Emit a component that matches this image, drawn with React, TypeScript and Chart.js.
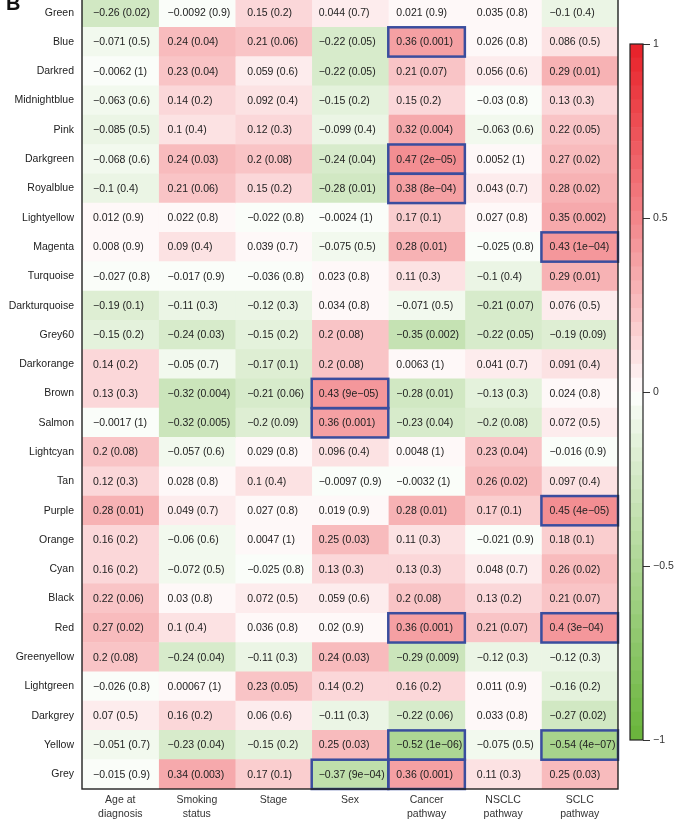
import React, { useEffect, useRef } from "react";
import { Chart, registerables } from "chart.js";
Chart.register(...registerables);

const modules = [
  "Green", "Blue", "Darkred", "Midnightblue", "Pink", "Darkgreen", "Royalblue",
  "Lightyellow", "Magenta", "Turquoise", "Darkturquoise", "Grey60", "Darkorange",
  "Brown", "Salmon", "Lightcyan", "Tan", "Purple", "Orange", "Cyan", "Black", "Red",
  "Greenyellow", "Lightgreen", "Darkgrey", "Yellow", "Grey",
];

const traitLabels = [
  ["Age at", "diagnosis"],
  ["Smoking", "status"],
  ["Stage"],
  ["Sex"],
  ["Cancer", "pathway"],
  ["NSCLC", "pathway"],
  ["SCLC", "pathway"],
];

const ageR = [-0.26, -0.071, -0.0062, -0.063, -0.085, -0.068, -0.1, 0.012, 0.008, -0.027, -0.19, -0.15, 0.14, 0.13, -0.0017, 0.2, 0.12, 0.28, 0.16, 0.16, 0.22, 0.27, 0.2, -0.026, 0.07, -0.051, -0.015];
const ageP = ["0.02", "0.5", "1", "0.6", "0.5", "0.6", "0.4", "0.9", "0.9", "0.8", "0.1", "0.2", "0.2", "0.3", "1", "0.08", "0.3", "0.01", "0.2", "0.2", "0.06", "0.02", "0.08", "0.8", "0.5", "0.7", "0.9"];

const smokingR = [-0.0092, 0.24, 0.23, 0.14, 0.1, 0.24, 0.21, 0.022, 0.09, -0.017, -0.11, -0.24, -0.05, -0.32, -0.32, -0.057, 0.028, 0.049, -0.06, -0.072, 0.03, 0.1, -0.24, 0.00067, 0.16, -0.23, 0.34];
const smokingP = ["0.9", "0.04", "0.04", "0.2", "0.4", "0.03", "0.06", "0.8", "0.4", "0.9", "0.3", "0.03", "0.7", "0.004", "0.005", "0.6", "0.8", "0.7", "0.6", "0.5", "0.8", "0.4", "0.04", "1", "0.2", "0.04", "0.003"];

const stageR = [0.15, 0.21, 0.059, 0.092, 0.12, 0.2, 0.15, -0.022, 0.039, -0.036, -0.12, -0.15, -0.17, -0.21, -0.2, 0.029, 0.1, 0.027, 0.0047, -0.025, 0.072, 0.036, -0.11, 0.23, 0.06, -0.15, 0.17];
const stageP = ["0.2", "0.06", "0.6", "0.4", "0.3", "0.08", "0.2", "0.8", "0.7", "0.8", "0.3", "0.2", "0.1", "0.06", "0.09", "0.8", "0.4", "0.8", "1", "0.8", "0.5", "0.8", "0.3", "0.05", "0.6", "0.2", "0.1"];

const sexR = [0.044, -0.22, -0.22, -0.15, -0.099, -0.24, -0.28, -0.0024, -0.075, 0.023, 0.034, 0.2, 0.2, 0.43, 0.36, 0.096, -0.0097, 0.019, 0.25, 0.13, 0.059, 0.02, 0.24, 0.14, -0.11, 0.25, -0.37];
const sexP = ["0.7", "0.05", "0.05", "0.2", "0.4", "0.04", "0.01", "1", "0.5", "0.8", "0.8", "0.08", "0.08", "9e-05", "0.001", "0.4", "0.9", "0.9", "0.03", "0.3", "0.6", "0.9", "0.03", "0.2", "0.3", "0.03", "9e-04"];

const cancerR = [0.021, 0.36, 0.21, 0.15, 0.32, 0.47, 0.38, 0.17, 0.28, 0.11, -0.071, -0.35, 0.0063, -0.28, -0.23, 0.0048, -0.0032, 0.28, 0.11, 0.13, 0.2, 0.36, -0.29, 0.16, -0.22, -0.52, 0.36];
const cancerP = ["0.9", "0.001", "0.07", "0.2", "0.004", "2e-05", "8e-04", "0.1", "0.01", "0.3", "0.5", "0.002", "1", "0.01", "0.04", "1", "1", "0.01", "0.3", "0.3", "0.08", "0.001", "0.009", "0.2", "0.06", "1e-06", "0.001"];

const nsclcR = [0.035, 0.026, 0.056, -0.03, -0.063, 0.0052, 0.043, 0.027, -0.025, -0.1, -0.21, -0.22, 0.041, -0.13, -0.2, 0.23, 0.26, 0.17, -0.021, 0.048, 0.13, 0.21, -0.12, 0.011, 0.033, -0.075, 0.11];
const nsclcP = ["0.8", "0.8", "0.6", "0.8", "0.6", "1", "0.7", "0.8", "0.8", "0.4", "0.07", "0.05", "0.7", "0.3", "0.08", "0.04", "0.02", "0.1", "0.9", "0.7", "0.2", "0.07", "0.3", "0.9", "0.8", "0.5", "0.3"];

const sclcR = [-0.1, 0.086, 0.29, 0.13, 0.22, 0.27, 0.28, 0.35, 0.43, 0.29, 0.076, -0.19, 0.091, 0.024, 0.072, -0.016, 0.097, 0.45, 0.18, 0.26, 0.21, 0.4, -0.12, -0.16, -0.27, -0.54, 0.25];
const sclcP = ["0.4", "0.5", "0.01", "0.3", "0.05", "0.02", "0.02", "0.002", "1e-04", "0.01", "0.5", "0.09", "0.4", "0.8", "0.5", "0.9", "0.4", "4e-05", "0.1", "0.02", "0.07", "3e-04", "0.3", "0.2", "0.02", "4e-07", "0.03"];

const colorbarTicks = [-1, -0.5, 0, 0.5, 1];

const rCols = [ageR, smokingR, stageR, sexR, cancerR, nsclcR, sclcR];
const pCols = [ageP, smokingP, stageP, sexP, cancerP, nsclcP, sclcP];

const STEPS = 50;
const RED = [232, 32, 40];
const GREEN = [104, 180, 58];
const GAMMA = 0.88;

function binMid(v: number) {
  const bin = Math.min(STEPS - 1, Math.max(0, Math.floor(((v + 1) / 2) * STEPS)));
  return -1 + ((bin + 0.5) * 2) / STEPS;
}
function colorFor(v: number) {
  const m = binMid(v);
  const t = Math.pow(Math.abs(m), GAMMA);
  const end = m >= 0 ? RED : GREEN;
  const c = end.map((e) => Math.round(255 + (e - 255) * t));
  return `rgb(${c[0]},${c[1]},${c[2]})`;
}
const minus = (s: string) => s.replace("-", "\u2212");

const FONT = '"Liberation Sans", Arial, Helvetica, sans-serif';
const TEXT = "#222";
const TEXT_INSET = [11, 9, 12, 7, 8, 12, 8];

const W = 678;
const SHIFT = 20;
const MAIN_H = 843;

export default function App() {
  const mainRef = useRef<HTMLCanvasElement>(null);
  const barRef = useRef<HTMLCanvasElement>(null);

  useEffect(() => {
    const nRows = modules.length;
    const cellPlugin = {
      id: "cells",
      afterDatasetsDraw(chart: any) {
        const { ctx, chartArea, scales } = chart;
        const xs = scales.x;
        const ys = scales.y;
        const rowH = (chartArea.bottom - chartArea.top) / nRows;
        ctx.save();
        ctx.font = `10.5px ${FONT}`;
        ctx.fillStyle = TEXT;
        ctx.textAlign = "left";
        ctx.textBaseline = "middle";
        rCols.forEach((col, c) => {
          const x0 = xs.getPixelForValue(c);
          col.forEach((r, i) => {
            const y = ys.getPixelForValue(i);
            ctx.fillText(`${minus(String(r))} (${minus(pCols[c][i])})`, x0 + TEXT_INSET[c], y + 0.5);
          });
        });
        // significance boxes
        ctx.strokeStyle = "#3a4d9e";
        ctx.lineWidth = 2.5;
        rCols.forEach((col, c) => {
          const x0 = xs.getPixelForValue(c);
          const x1 = xs.getPixelForValue(c + 1);
          col.forEach((_r, i) => {
            if (parseFloat(pCols[c][i]) <= 0.001) {
              const y = ys.getPixelForValue(i);
              ctx.strokeRect(x0, y - rowH / 2, x1 - x0, rowH);
            }
          });
        });
        // frame
        ctx.strokeStyle = "#222";
        ctx.lineWidth = 1.4;
        ctx.strokeRect(chartArea.left, chartArea.top, chartArea.right - chartArea.left, chartArea.bottom - chartArea.top);
        // panel letter
        ctx.font = `bold 20px ${FONT}`;
        ctx.fillStyle = "#111";
        ctx.textBaseline = "alphabetic";
        ctx.fillText("B", 6, 10 + SHIFT);
        ctx.restore();
      },
    };

    const main = new Chart(mainRef.current!, {
      type: "bar",
      data: {
        labels: modules,
        datasets: rCols.map((col, c) => ({
          label: traitLabels[c].join(" "),
          data: modules.map(() => [c, c + 1]),
          backgroundColor: col.map((v) => colorFor(v)),
          borderWidth: 0,
          grouped: false,
          barPercentage: 1,
          categoryPercentage: 1,
        })),
      } as any,
      options: {
        indexAxis: "y",
        responsive: false,
        animation: false,
        layout: { padding: { left: 0, right: 60, top: SHIFT - 2, bottom: 0 } },
        plugins: { legend: { display: false }, tooltip: { enabled: false } },
        scales: {
          x: {
            type: "linear",
            position: "bottom",
            min: 0,
            max: traitLabels.length,
            grid: { display: false, drawTicks: false },
            border: { display: false },
            afterBuildTicks: (s: any) => {
              s.ticks = traitLabels.map((_, i) => ({ value: i + 0.5 }));
            },
            afterFit: (s: any) => {
              s.height = 34;
            },
            ticks: {
              autoSkip: false,
              maxRotation: 0,
              padding: 5,
              color: "#333",
              font: { family: FONT, size: 10.5, lineHeight: 1.25 },
              callback: (_v: any, i: number) => traitLabels[i],
            },
          },
          y: {
            type: "category",
            grid: { display: false, drawTicks: false },
            border: { display: false },
            afterFit: (s: any) => {
              s.width = 82;
            },
            ticks: {
              autoSkip: false,
              padding: 8,
              color: TEXT,
              font: { family: FONT, size: 10.5 },
            },
          },
        },
      } as any,
      plugins: [cellPlugin],
    });

    // colorbar
    const bins = Array.from({ length: STEPS }, (_, b) => -1 + (b * 2) / STEPS);
    const framePlugin = {
      id: "cbframe",
      afterDatasetsDraw(chart: any) {
        const { ctx, chartArea } = chart;
        ctx.save();
        ctx.strokeStyle = "#222";
        ctx.lineWidth = 1.2;
        ctx.strokeRect(chartArea.left, chartArea.top, chartArea.right - chartArea.left, chartArea.bottom - chartArea.top);
        ctx.restore();
      },
    };
    const bar = new Chart(barRef.current!, {
      type: "bar",
      data: {
        labels: [""],
        datasets: bins.map((lo) => ({
          data: [[lo, lo + 2 / STEPS]],
          backgroundColor: colorFor(lo + 1 / STEPS),
          borderWidth: 0,
          grouped: false,
          barPercentage: 1,
          categoryPercentage: 1,
        })),
      } as any,
      options: {
        responsive: false,
        animation: false,
        layout: { padding: { left: 10, right: 0, top: 14, bottom: 20 } },
        plugins: { legend: { display: false }, tooltip: { enabled: false } },
        scales: {
          x: { display: false },
          y: {
            position: "right",
            min: -1,
            max: 1,
            afterBuildTicks: (s: any) => {
              s.ticks = colorbarTicks.map((v) => ({ value: v }));
            },
            afterFit: (s: any) => {
              s.width = 35;
            },
            grid: { drawOnChartArea: false, drawTicks: true, tickLength: 7, color: "#333" },
            border: { display: false },
            ticks: {
              padding: 3,
              color: "#333",
              font: { family: FONT, size: 10.5 },
              callback: (v: number) => minus(String(v)),
            },
          },
        },
      } as any,
      plugins: [framePlugin],
    });

    return () => {
      main.destroy();
      bar.destroy();
    };
  }, []);

  return (
    <div style={{ position: "absolute", left: 0, top: 0, width: W, height: 823, overflow: "hidden", background: "#fff" }}>
      <canvas
        ref={mainRef}
        width={W}
        height={MAIN_H}
        style={{ position: "absolute", left: 0, top: -SHIFT, width: W, height: MAIN_H }}
      />
      <canvas
        ref={barRef}
        width={58}
        height={730}
        style={{ position: "absolute", left: 620, top: 30, width: 58, height: 730 }}
      />
    </div>
  );
}
